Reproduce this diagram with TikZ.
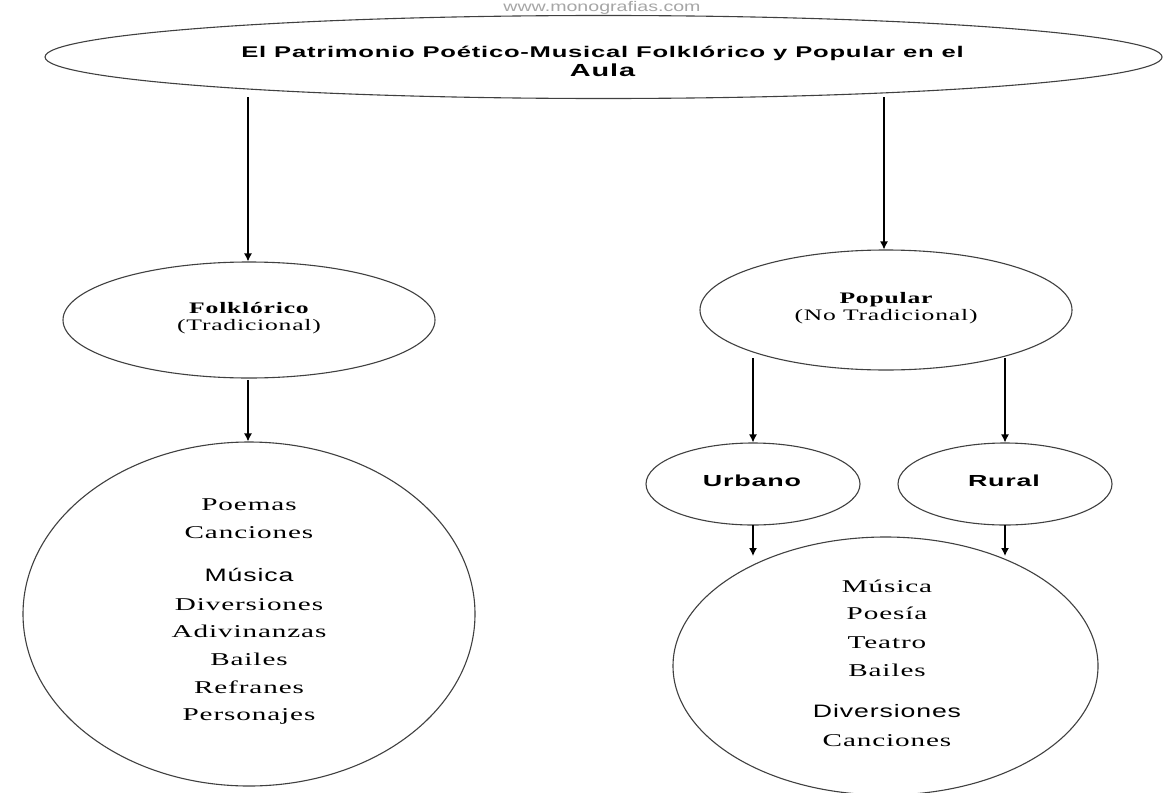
\documentclass[tikz,border=0pt]{standalone}
\usepackage{fontspec}
\setmainfont{Liberation Serif}
\newfontfamily\titlef[FakeStretch=1.65,LetterSpace=5]{Liberation Sans}
\newfontfamily\subsansf[FakeStretch=1.68,LetterSpace=5]{Liberation Sans}
\newfontfamily\serifsp[FakeStretch=1.62,LetterSpace=5]{Liberation Serif}
\newfontfamily\hdserif[FakeStretch=1.6,LetterSpace=5]{Liberation Serif}
\newfontfamily\sanssp[FakeStretch=1.48,LetterSpace=5]{Liberation Sans}
\newfontfamily\wmf[FakeStretch=1.4]{Liberation Sans}
\usetikzlibrary{shapes.geometric,arrows.meta}
\begin{document}
\begin{tikzpicture}[x=1pt,y=-1pt,
  oval/.style={draw=black!75,line width=1.1pt,ellipse,inner sep=0pt},
  arr/.style={draw=black,line width=1.3pt,-{Latex[length=8pt,width=8pt]}},
  ttl/.style={font=\titlef\bfseries\fontsize{15.5}{17}\selectfont,anchor=base,inner sep=0pt},
  hd/.style={font=\hdserif\bfseries\fontsize{16}{18}\selectfont,anchor=base,inner sep=0pt},
  sub/.style={font=\hdserif\fontsize{16}{18}\selectfont,anchor=base,inner sep=0pt},
  item/.style={font=\serifsp\fontsize{18}{20}\selectfont,anchor=base,inner sep=0pt},
  sitem/.style={font=\sanssp\fontsize{18}{20}\selectfont,anchor=base,inner sep=0pt},
  sb/.style={font=\subsansf\bfseries\fontsize{16}{18}\selectfont,anchor=base,inner sep=0pt}]
\useasboundingbox[fill=white] (0,0) rectangle (1174,792);
% watermark
\node[font=\wmf\fontsize{14}{16}\selectfont,text=black!35,anchor=base,inner sep=0pt] (wm) at (602,12) {www.monografias.com};
% shapes
\node[oval,minimum width=1117pt,minimum height=83pt] (top) at (603.5,57) {};
\node[oval,minimum width=372pt,minimum height=116pt] (fol) at (249,320) {};
\node[oval,minimum width=372pt,minimum height=120pt] (pop) at (886,310) {};
\node[oval,minimum width=214pt,minimum height=82pt] (urb) at (753,484) {};
\node[oval,minimum width=214pt,minimum height=82pt] (rur) at (1005,484) {};
\node[oval,minimum width=452pt,minimum height=344pt] (lc) at (249,614) {};
\node[oval,minimum width=425pt,minimum height=258pt] (rc) at (885.5,666) {};
% texts
\node[ttl] (t1) at (602.5,58) {El Patrimonio Poético-Musical Folklórico y Popular en el};
\node[ttl,font=\titlef\bfseries\fontsize{17.5}{19}\selectfont] (t2) at (602.5,76) {Aula};
\node[hd] (f1) at (249,313) {Folklórico};
\node[sub] (f2) at (249,330) {(Tradicional)};
\node[hd] (p1) at (886,303) {Popular};
\node[sub] (p2) at (886,320) {(No Tradicional)};
\node[sb] (u1) at (752,486) {Urbano};
\node[sb] (r1) at (1004,486) {Rural};
\node[item] (l1) at (249,510) {Poemas};
\node[item] (l2) at (249,538) {Canciones};
\node[sitem] (l3) at (249,581) {Música};
\node[item] (l4) at (249,610) {Diversiones};
\node[item] (l5) at (249,637) {Adivinanzas};
\node[item] (l6) at (249,665) {Bailes};
\node[item] (l7) at (249,693) {Refranes};
\node[item] (l8) at (249,720) {Personajes};
\node[item] (r1t) at (887,592) {Música};
\node[item] (r2t) at (887,619) {Poesía};
\node[item] (r3t) at (887,648) {Teatro};
\node[item] (r4t) at (887,676) {Bailes};
\node[sitem] (r5t) at (887,717) {Diversiones};
\node[item] (r6t) at (887,746) {Canciones};
% connector anchors
\coordinate (a1) at (248,97);
\coordinate (a2) at (884,97);
\coordinate (a3) at (248,380);
\coordinate (a4) at (753,358);
\coordinate (a5) at (1005,358);
\coordinate (a6) at (753,525);
\coordinate (a7) at (1005,525);
\coordinate (e6) at (753,556);
\coordinate (e7) at (1005,556);
% connectors
\draw[arr] (a1) -- (a1 |- fol.north);
\draw[arr] (a2) -- (a2 |- pop.north);
\draw[arr] (a3) -- (a3 |- lc.north);
\draw[arr] (a4) -- (a4 |- urb.north);
\draw[arr] (a5) -- (a5 |- rur.north);
\draw[arr] (a6) -- (e6);
\draw[arr] (a7) -- (e7);
\end{tikzpicture}
\end{document}
